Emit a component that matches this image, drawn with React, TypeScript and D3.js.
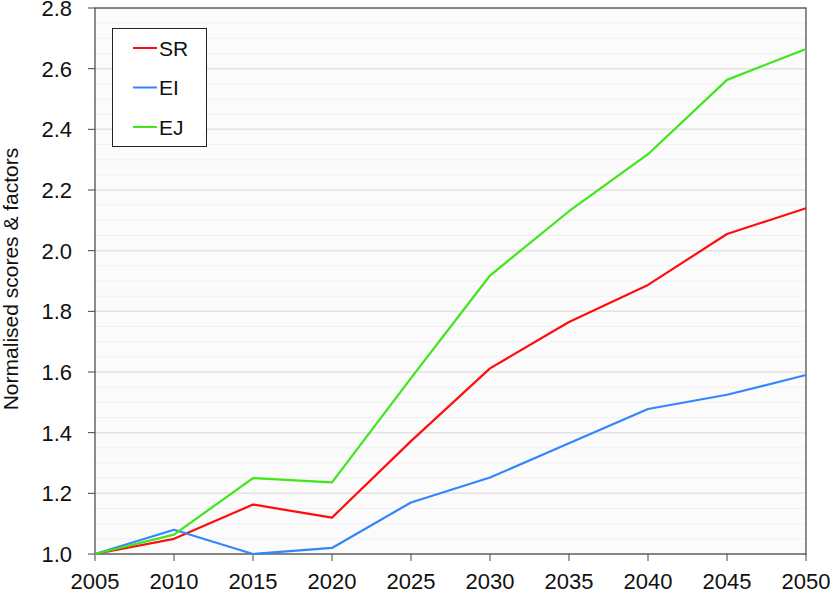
import React from "react";
import * as d3 from "d3";

const years = [2005, 2010, 2015, 2020, 2025, 2030, 2035, 2040, 2045, 2050];
const srValues = [1.0, 1.05, 1.163, 1.12, 1.372, 1.612, 1.765, 1.887, 2.055, 2.14];
const eiValues = [1.0, 1.08, 1.0, 1.02, 1.17, 1.252, 1.365, 1.478, 1.525, 1.59];
const ejValues = [1.0, 1.064, 1.25, 1.236, 1.58, 1.918, 2.13, 2.318, 2.563, 2.665];
const yTicks = [1.0, 1.2, 1.4, 1.6, 1.8, 2.0, 2.2, 2.4, 2.6, 2.8];
const seriesNames = ["SR", "EI", "EJ"];
const seriesColors = ["#ff0d0d", "#3384ff", "#3ee61a"];

const W = 830, H = 592;
const L = 95, R = 806, T = 8, B = 554;

export default function App() {
  const x = d3.scaleLinear().domain([2005, 2050]).range([L, R]);
  const y = d3.scaleLinear().domain([1.0, 2.8]).range([B, T]);
  const line = d3.line<number>().x((_, i) => x(years[i])).y((v) => y(v));
  const allSeries = [srValues, eiValues, ejValues];
  const minor = d3.range(1.0, 2.8001, 0.05);
  const font = "'Liberation Sans', Arial, sans-serif";
  return (
    <svg width={W} height={H} style={{ position: "absolute", left: 0, top: 0, fontFamily: font }}>
      <rect x={L} y={T} width={R - L} height={B - T} fill="#fbfbfb" />
      {minor.map((v, i) => (
        <line key={"m" + i} x1={L} x2={R} y1={y(v)} y2={y(v)} stroke="#f1f1f1" strokeWidth={1} />
      ))}
      {yTicks.map((v, i) => (
        <line key={"g" + i} x1={L} x2={R} y1={y(v)} y2={y(v)} stroke="#e4e4e4" strokeWidth={1.5} />
      ))}
      <rect x={L} y={T} width={R - L} height={B - T} fill="none" stroke="#444" strokeWidth={1.2} />
      {yTicks.map((v, i) => (
        <g key={"yt" + i}>
          <line x1={L - 7} x2={L} y1={y(v)} y2={y(v)} stroke="#444" strokeWidth={1} />
          <text x={72} y={y(v)} dy="0.36em" textAnchor="end" fontSize={22} fill="#111">
            {v.toFixed(1)}
          </text>
        </g>
      ))}
      {years.map((yr, i) => (
        <g key={"xt" + i}>
          <line x1={x(yr)} x2={x(yr)} y1={B} y2={B + 7} stroke="#444" strokeWidth={1} />
          <text x={x(yr)} y={589} textAnchor="middle" fontSize={22} fill="#111">
            {yr}
          </text>
        </g>
      ))}
      <text
        transform={`translate(18,${279}) rotate(-90)`}
        textAnchor="middle"
        fontSize={21}
        fill="#111"
      >
        Normalised scores &amp; factors
      </text>
      {allSeries.map((s, i) => (
        <path key={"s" + i} d={line(s) || ""} fill="none" stroke={seriesColors[i]} strokeWidth={2.2} strokeLinejoin="round" />
      ))}
      <rect x={112.5} y={28.5} width={94} height={118} fill="#fff" stroke="#222" strokeWidth={1} />
      {seriesNames.map((n, i) => (
        <g key={"lg" + i}>
          <line x1={133} x2={157} y1={48 + i * 39.5} y2={48 + i * 39.5} stroke={seriesColors[i]} strokeWidth={2} />
          <text x={159} y={48 + i * 39.5} dy="0.36em" fontSize={21} fill="#111">
            {n}
          </text>
        </g>
      ))}
    </svg>
  );
}
